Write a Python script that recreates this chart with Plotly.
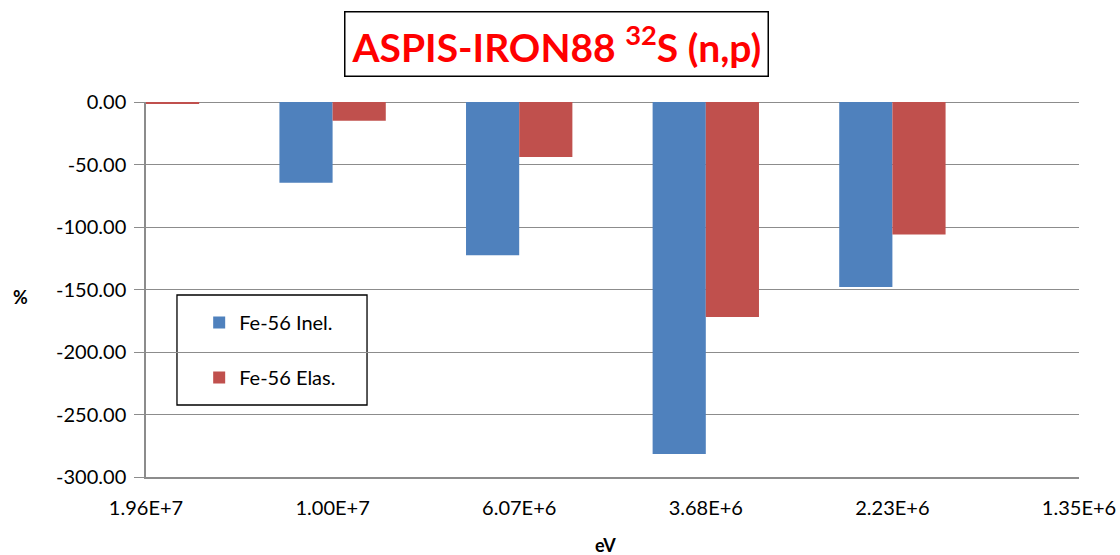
import plotly.graph_objects as go

categories = ["1.96E+7", "1.00E+7", "6.07E+6", "3.68E+6", "2.23E+6", "1.35E+6"]
inel = [-1.0, -64.5, -122.5, -281.5, -148.0, 0.0]
elas = [-1.5, -15.0, -44.0, -172.0, -106.0, 0.0]
series_names = ["Fe-56 Inel.", "Fe-56 Elas."]
colors = ["#4F81BD", "#C0504D"]
y_ticks = [0, -50, -100, -150, -200, -250, -300]
y_ticktext = ["0.00", "-50.00", "-100.00", "-150.00", "-200.00", "-250.00", "-300.00"]

FONT = "Lato"
xpos = list(range(len(categories)))

fig = go.Figure()
for i, (name, vals) in enumerate(zip(series_names, [inel, elas])):
    fig.add_trace(go.Bar(
        x=xpos, y=vals, name=name, marker_color=colors[i],
        marker_line_width=0, legendgroup=name,
    ))

fig.update_layout(
    width=1120, height=555,
    margin=dict(l=146, r=41, t=102, b=78),
    paper_bgcolor="white", plot_bgcolor="white",
    barmode="group", bargap=0.43, bargroupgap=0,
    font=dict(family=FONT, size=20, color="black"),
    showlegend=True,
    legend=dict(
        x=0.057, y=0.464, xanchor="left", yanchor="top",
        borderwidth=0, bgcolor="rgba(0,0,0,0)",
        font=dict(family=FONT, size=20, color="black"),
        tracegroupgap=26, traceorder="grouped",
        itemwidth=30,
    ),
    xaxis=dict(
        range=[0, 5], tickmode="array", tickvals=xpos, ticktext=categories,
        showgrid=False, zeroline=False, showline=True, linecolor="#8c8c8c",
        linewidth=1.5, ticks="", ticklabelstandoff=12, automargin=False,
        tickfont=dict(family=FONT, size=20),
    ),
    yaxis=dict(
        range=[-300, 0], tickmode="array", tickvals=y_ticks, ticktext=y_ticktext,
        showgrid=True, gridcolor="#8c8c8c", gridwidth=1,
        zeroline=True, zerolinecolor="#8c8c8c", zerolinewidth=1,
        showline=True, linecolor="#8c8c8c", linewidth=1.5,
        ticks="outside", ticklen=10, tickcolor="#8c8c8c",
        ticklabelstandoff=4, automargin=False,
        tickfont=dict(family=FONT, size=20),
    ),
)

# legend frame
fig.add_shape(
    type="rect", xref="paper", yref="paper",
    x0=0.0332, x1=0.2369, y0=0.192, y1=0.4853,
    line=dict(color="black", width=1.3), fillcolor="white", layer="below",
)

fig.add_annotation(
    text="<b>ASPIS-IRON88 <sup>32</sup>S (n,p)</b>",
    xref="paper", yref="paper", x=0.440, y=1.0, yshift=58,
    xanchor="center", yanchor="middle", showarrow=False,
    font=dict(family=FONT, size=39, color="#FF0000"),
    bordercolor="black", borderwidth=1.5, borderpad=6, bgcolor="white",
)
fig.add_annotation(
    text="<b>%</b>", xref="paper", yref="paper", x=-0.135, y=0.48,
    xanchor="center", yanchor="middle", showarrow=False,
    font=dict(family=FONT, size=18, color="black"),
)
fig.add_annotation(
    text="<b>eV</b>", xref="paper", yref="paper", x=0.493, y=0, yshift=-68,
    xanchor="center", yanchor="middle", showarrow=False,
    font=dict(family=FONT, size=18, color="black"),
)

fig.write_html(
    "out.html",
    config={"displayModeBar": False},
    post_script="document.body.style.margin='0';document.body.style.overflow='hidden';",
)
